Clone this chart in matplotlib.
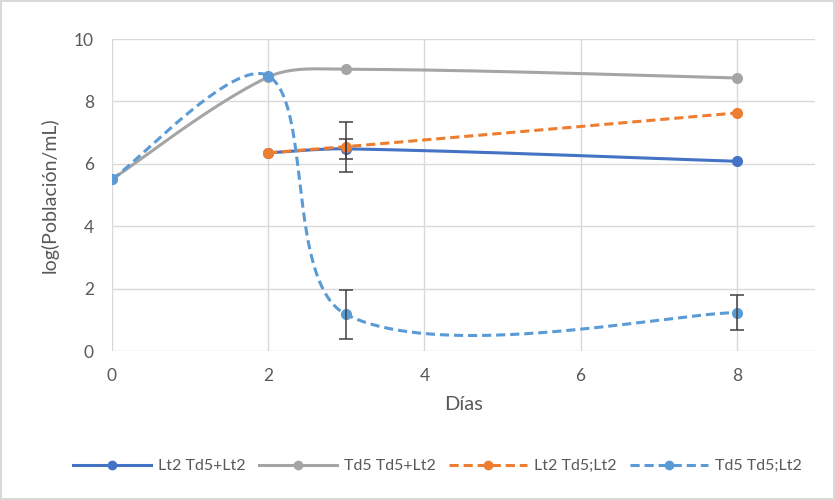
import numpy as np
import matplotlib
matplotlib.use("Agg")
from matplotlib import pyplot as plt
from matplotlib.lines import Line2D

plt.rcParams['font.family'] = ['Lato', 'DejaVu Sans']

# data
x_lt2_mix = [2, 3, 8]
y_lt2_mix = [6.35, 6.48, 6.08]
err_lt2_mix = [0, 0.33, 0]

x_td5_mix = [0, 2, 3, 8]
y_td5_mix = [5.5, 8.78, 9.03, 8.75]

x_lt2_seq = [2, 3, 8]
y_lt2_seq = [6.35, 6.55, 7.63]
err_lt2_seq = [0, 0.8, 0]

x_td5_seq = [0, 2, 3, 8]
y_td5_seq = [5.5, 8.82, 1.17, 1.23]
err_td5_seq = [0, 0, 0.78, 0.57]

labels = ["Lt2 Td5+Lt2", "Td5 Td5+Lt2", "Lt2 Td5;Lt2", "Td5 Td5;Lt2"]
colors = ["#4472C4", "#A5A5A5", "#ED7D31", "#5B9BD5"]

# px per data unit, smoothing is done in screen space like excel
SX, SY = 78.0, 30.9


def excel_smooth(xs, ys, n=80):
    p = np.column_stack([np.array(xs) * SX, np.array(ys) * SY]).astype(float)
    pts = np.vstack([p[0], p, p[-1]])
    out = []
    for i in range(1, len(pts) - 2):
        p0, p1, p2, p3 = pts[i - 1], pts[i], pts[i + 1], pts[i + 2]
        d01 = np.hypot(*(p1 - p0))
        d12 = np.hypot(*(p2 - p1))
        d23 = np.hypot(*(p3 - p2))
        f1 = d12 / (d01 + d12) / 3 if d01 > 0 else 1 / 6
        f2 = d12 / (d12 + d23) / 3 if d23 > 0 else 1 / 6
        c1 = p1 + (p2 - p0) * f1
        c2 = p2 - (p3 - p1) * f2
        t = np.linspace(0, 1, n)[:, None]
        seg = ((1 - t) ** 3) * p1 + 3 * ((1 - t) ** 2) * t * c1 + 3 * (1 - t) * t ** 2 * c2 + t ** 3 * p2
        out.append(seg)
    out = np.vstack(out)
    return out[:, 0] / SX, out[:, 1] / SY


fig = plt.figure(figsize=(8.35, 5), dpi=100)
fig.patch.set_edgecolor("#D9D9D9")
fig.patch.set_linewidth(1.5)
ax = fig.add_axes([0.134, 0.298, 0.842, 0.624])

series = [
    (x_lt2_mix, y_lt2_mix, err_lt2_mix, "-"),
    (x_td5_mix, y_td5_mix, None, "-"),
    (x_lt2_seq, y_lt2_seq, err_lt2_seq, (0, (3, 1.6))),
    (x_td5_seq, y_td5_seq, err_td5_seq, (0, (3, 1.6))),
]
draw_order = [1, 0, 2, 3]
for k in draw_order:
    xs, ys, errs, ls = series[k]
    sx, sy = excel_smooth(xs, ys)
    ax.plot(sx, sy, color=colors[k], lw=2.2, ls=ls, zorder=3 + k)
    ax.plot(xs, ys, 'o', color=colors[k], ms=7, zorder=3 + k)
    if errs is not None:
        idx = [i for i in range(len(errs)) if errs[i] > 0]
        ax.errorbar([xs[i] for i in idx], [ys[i] for i in idx], yerr=[errs[i] for i in idx],
                    fmt='none', ecolor="#404040", elinewidth=1.1,
                    capsize=5, capthick=1.1, zorder=8)

ax.set_xlim(0, 9)
ax.set_ylim(0, 10)
ax.set_xticks([0, 2, 4, 6, 8])
ax.set_yticks([0, 2, 4, 6, 8, 10])
ax.grid(True, color="#D9D9D9", lw=1)
ax.set_axisbelow(True)
for s in ax.spines.values():
    s.set_visible(False)
ax.tick_params(length=0, labelsize=12.5, colors="#595959")
ax.tick_params(axis='y', pad=13)
ax.tick_params(axis='x', pad=12)
ax.set_xlabel("Días", fontsize=14.5, color="#595959", labelpad=9)
ax.set_ylabel("log(Población/mL)", fontsize=14, color="#595959", labelpad=11)

handles = [Line2D([0], [0], color=colors[i], lw=2.2, ls=series[i][3], marker='o', ms=6)
           for i in range(4)]
fig.legend(handles, labels, loc="center", bbox_to_anchor=(0.524, 0.068), ncol=4,
           frameon=False, fontsize=11.5, handlelength=4.9, columnspacing=0.8,
           handletextpad=0.45, labelcolor="#595959")

fig.savefig("out.png", dpi=100)
